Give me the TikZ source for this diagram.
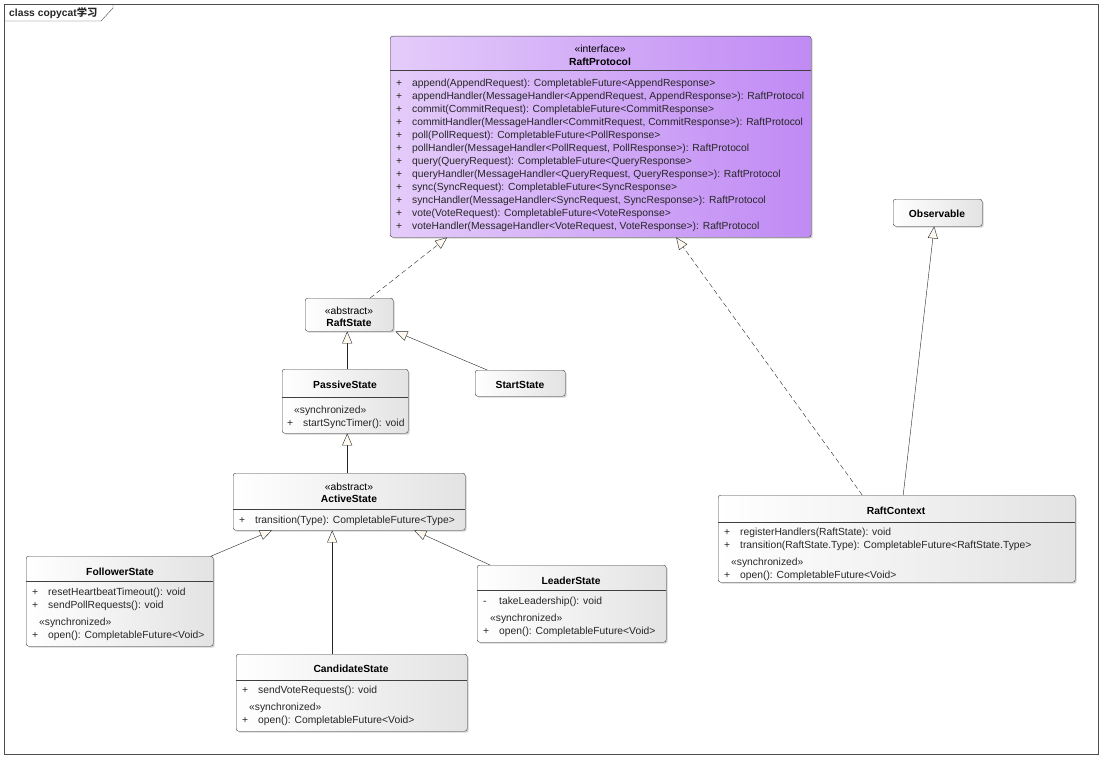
\documentclass[tikz,border=0pt]{standalone}
\usepackage{fontspec}
\setmainfont{Liberation Sans}
\newfontfamily\cjk{Noto Sans CJK SC}
\usetikzlibrary{arrows.meta,shadows}
\definecolor{ifaceL}{RGB}{228,204,250}
\definecolor{ifaceR}{RGB}{192,138,244}
\definecolor{tipfill}{RGB}{255,249,240}

\begin{document}
\begin{tikzpicture}[x=1pt,y=-1pt,
    cls/.style={draw=black!75, rounded corners=2.5pt, left color=white, right color=black!11,
      drop shadow={shadow xshift=1.5pt, shadow yshift=-1.5pt, opacity=0.35}, anchor=north west, inner sep=0pt},
    iface/.style={cls, left color=ifaceL, right color=ifaceR},
    mem/.style={anchor=west, inner sep=0pt, yshift=-1pt, font=\fontsize{10.3}{12}\selectfont, text=black!85},
    ttl/.style={inner sep=0pt, yshift=-1pt, font=\fontsize{10.3}{12}\selectfont\bfseries},
    ster/.style={inner sep=0pt, yshift=-1pt, font=\fontsize{10.3}{12}\selectfont},
    sep/.style={draw=black!75},
    gen/.style={-{Triangle[length=12pt,width=10pt,fill=tipfill]}, draw=black!85},
    real/.style={gen, dash pattern=on 5pt off 3pt}
]
\useasboundingbox (0,0) rectangle (1104,760);
\fill[white] (0,0) rectangle (1104,760);

% frame
\draw[black!70] (4,4) rectangle (1098,754);
\draw[black!70] (4,21) -- (101,21) -- (113,8) -- (113,4);
\node[mem, font=\fontsize{10.3}{12}\selectfont\bfseries] (frmlbl) at (9,12) {class copycat{\cjk 学习}};

% RaftProtocol
\node[iface, minimum width=421pt, minimum height=201pt] (proto) at (390,36) {};
\node[ster] (protost) at (600,48) {«interface»};
\node[ttl] (protonm) at (600,61) {RaftProtocol};
\draw[sep] (390,70) -- (811,70);
\foreach \m [count=\i] in {
  {append(AppendRequest): CompletableFuture<AppendResponse>},
  {appendHandler(MessageHandler<AppendRequest, AppendResponse>): RaftProtocol},
  {commit(CommitRequest): CompletableFuture<CommitResponse>},
  {commitHandler(MessageHandler<CommitRequest, CommitResponse>): RaftProtocol},
  {poll(PollRequest): CompletableFuture<PollResponse>},
  {pollHandler(MessageHandler<PollRequest, PollResponse>): RaftProtocol},
  {query(QueryRequest): CompletableFuture<QueryResponse>},
  {queryHandler(MessageHandler<QueryRequest, QueryResponse>): RaftProtocol},
  {sync(SyncRequest): CompletableFuture<SyncResponse>},
  {syncHandler(MessageHandler<SyncRequest, SyncResponse>): RaftProtocol},
  {vote(VoteRequest): CompletableFuture<VoteResponse>},
  {voteHandler(MessageHandler<VoteRequest, VoteResponse>): RaftProtocol}}
  \node[mem] (pm\i) at (396,70+13*\i) {\makebox[16pt][l]{+}\m};

% Observable
\node[cls, minimum width=89pt, minimum height=27pt] (obs) at (893,199) {};
\node[ttl] (obsnm) at (937,213) {Observable};

% RaftState
\node[cls, minimum width=88pt, minimum height=33pt] (rs) at (305,298) {};
\node[ster] (rsst) at (349,310) {«abstract»};
\node[ttl] (rsnm) at (349,322) {RaftState};

% StartState
\node[cls, minimum width=90pt, minimum height=26pt] (start) at (475,370) {};
\node[ttl] (startnm) at (520,384) {StartState};

% PassiveState
\node[cls, minimum width=126pt, minimum height=64pt] (pass) at (282,369) {};
\node[ttl] (passnm) at (345,384) {PassiveState};
\draw[sep] (282,397) -- (408,397);
\node[mem] (passsy) at (294,410) {«synchronized»};
\node[mem] (passm1) at (287,423) {\makebox[16pt][l]{+}startSyncTimer(): void};

% ActiveState
\node[cls, minimum width=232pt, minimum height=57pt] (act) at (233,473) {};
\node[ster] (actst) at (349,486) {«abstract»};
\node[ttl] (actnm) at (349,498) {ActiveState};
\draw[sep] (233,509) -- (465,509);
\node[mem] (actm1) at (239,520) {\makebox[16pt][l]{+}transition(Type): CompletableFuture<Type>};

% FollowerState
\node[cls, minimum width=187pt, minimum height=90pt] (fol) at (26,556) {};
\node[ttl] (folnm) at (120,571) {FollowerState};
\draw[sep] (26,581) -- (213,581);
\node[mem] (folm1) at (32,592) {\makebox[16pt][l]{+}resetHeartbeatTimeout(): void};
\node[mem] (folm2) at (32,605) {\makebox[16pt][l]{+}sendPollRequests(): void};
\node[mem] (folsy) at (39,622) {«synchronized»};
\node[mem] (folm3) at (32,635) {\makebox[16pt][l]{+}open(): CompletableFuture<Void>};

% LeaderState
\node[cls, minimum width=189pt, minimum height=77pt] (lead) at (477,565) {};
\node[ttl] (leadnm) at (571,580) {LeaderState};
\draw[sep] (477,590) -- (666,590);
\node[mem] (leadm1) at (483,601) {\makebox[16pt][l]{-}takeLeadership(): void};
\node[mem] (leadsy) at (490,618) {«synchronized»};
\node[mem] (leadm2) at (483,631) {\makebox[16pt][l]{+}open(): CompletableFuture<Void>};

% CandidateState
\node[cls, minimum width=231pt, minimum height=77pt] (cand) at (236,654) {};
\node[ttl] (candnm) at (351,668) {CandidateState};
\draw[sep] (236,680) -- (467,680);
\node[mem] (candm1) at (242,690) {\makebox[16pt][l]{+}sendVoteRequests(): void};
\node[mem] (candsy) at (249,707) {«synchronized»};
\node[mem] (candm2) at (242,720) {\makebox[16pt][l]{+}open(): CompletableFuture<Void>};

% RaftContext
\node[cls, minimum width=357pt, minimum height=87pt] (ctx) at (718,495) {};
\node[ttl] (ctxnm) at (896,510) {RaftContext};
\draw[sep] (718,522) -- (1075,522);
\node[mem] (ctxm1) at (724,532) {\makebox[16pt][l]{+}registerHandlers(RaftState): void};
\node[mem] (ctxm2) at (724,545) {\makebox[16pt][l]{+}transition(RaftState.Type): CompletableFuture<RaftState.Type>};
\node[mem] (ctxsy) at (731,562) {«synchronized»};
\node[mem] (ctxm3) at (724,575) {\makebox[16pt][l]{+}open(): CompletableFuture<Void>};

% realizations
\draw[real] ([xshift=21pt]rs.north) -- ([xshift=-153.5pt]proto.south);
\draw[real] ([xshift=-34.5pt]ctx.north) -- ([xshift=75.5pt]proto.south);
% generalizations
\draw[gen] ([xshift=6.5pt]ctx.north) -- ([xshift=-3.5pt]obs.south);
\draw[gen] ([xshift=2pt]pass.north) -- ([xshift=-2pt]rs.south);
\draw[gen] ([xshift=-33pt]start.north) -- ([xshift=2pt]rs.south east);
\draw[gen] ([xshift=-2pt]act.north) -- ([xshift=2pt]pass.south);
\draw[gen] ([xshift=-2pt]fol.north east) -- ([xshift=39pt]act.south west);
\draw[gen] ([xshift=-19.5pt]cand.north) -- ([xshift=-17pt]act.south);
\draw[gen] ([xshift=13pt]lead.north west) -- ([xshift=65pt]act.south);
\end{tikzpicture}
\end{document}
